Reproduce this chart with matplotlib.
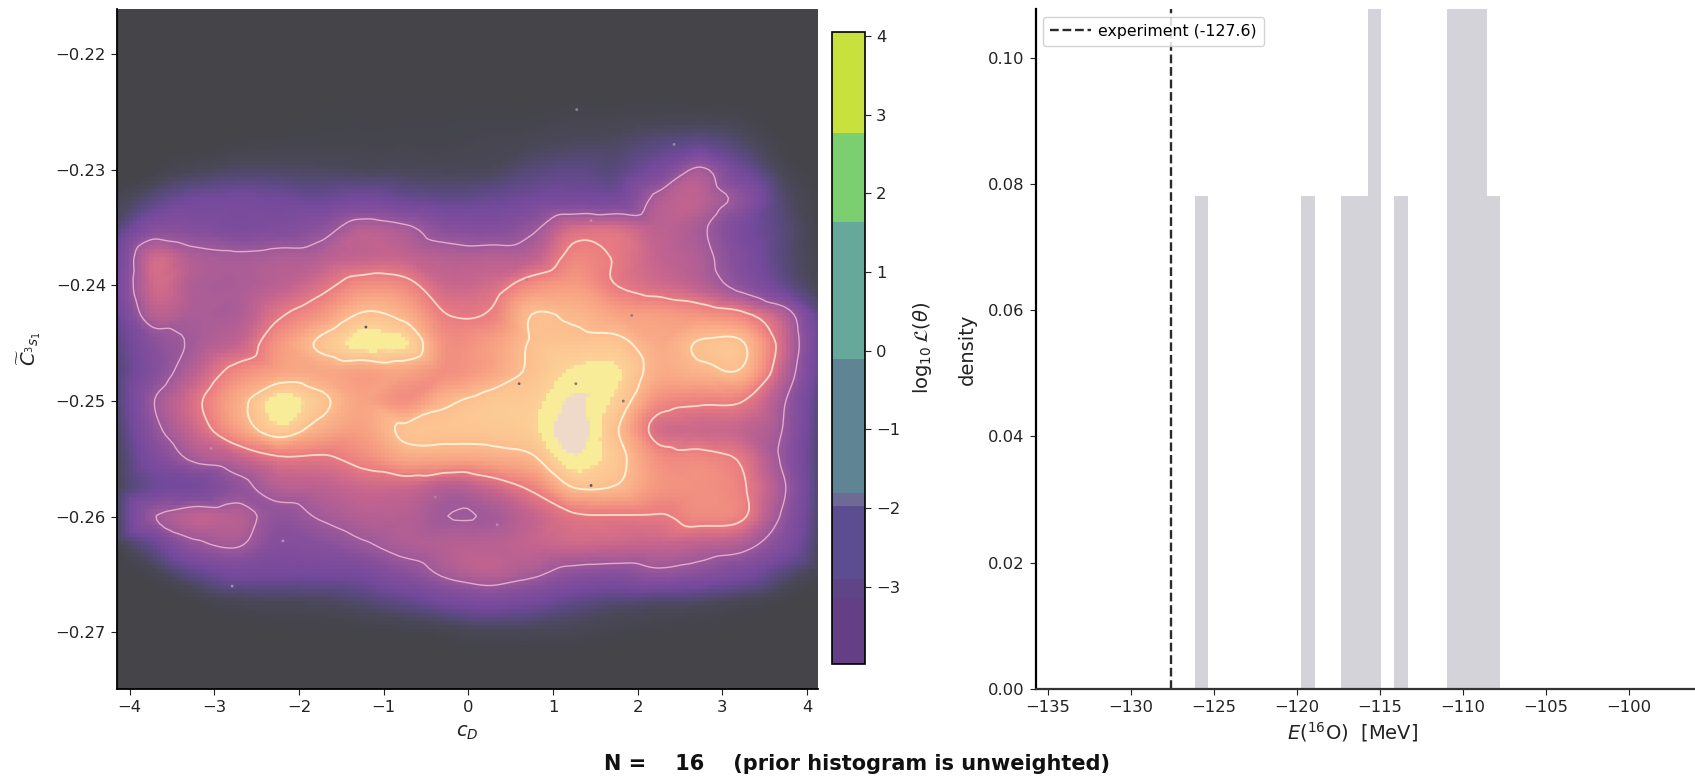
import numpy as np
import matplotlib
matplotlib.use("Agg")
import matplotlib.pyplot as plt
import matplotlib.tri as mtri
from matplotlib.cm import ScalarMappable
from matplotlib.colors import BoundaryNorm, LinearSegmentedColormap, ListedColormap

# ---- heat map, values on a coarse grid ----
cD_grid = [-4.25, -3.75, -3.25, -2.75, -2.25, -1.75, -1.25, -0.75, -0.25,
           0.25, 0.75, 1.25, 1.75, 2.25, 2.75, 3.25, 3.75, 4.25]
C3S1_grid = [-0.215, -0.2175, -0.22, -0.2225, -0.225, -0.2275, -0.23, -0.2325, -0.235,
             -0.2375, -0.24, -0.2425, -0.245, -0.2475, -0.25, -0.2525, -0.255, -0.2575,
             -0.26, -0.2625, -0.265, -0.2675, -0.27, -0.2725, -0.275]
density_grid = [
    [0, 0, 0, 0, 0, 0, 0, 0, 0, 0, 0, 0, 0, 0, 0, 0, 0, 0],
    [0, 0, 0, 0, 0, 0, 0, 0, 0, 0, 0, 0, 0, 0, 0, 0, 0, 0],
    [0, 0, 0, 0, 0, 0, 0, 0, 0, 0, 0, 0, 0, 0, 0, 0, 0, 0],
    [0, 0, 0, 0, 0, 0, 0, 0, 0, 0, 0, 0, 0, 0, 0, 0, 0, 0],
    [0, 0, 0, 0, 0, 0.03, 0.05, 0.05, 0.05, 0.05, 0.05, 0.1, 0.1, 0.12, 0.12, 0.08, 0, 0],
    [0, 0, 0, 0.05, 0.08, 0.1, 0.1, 0.1, 0.1, 0.15, 0.2, 0.3, 0.35, 0.55, 0.7, 0.4, 0.05, 0],
    [0, 0.05, 0.25, 0.4, 0.4, 0.35, 0.3, 0.3, 0.25, 0.3, 0.55, 0.7, 0.6, 1.2, 2.1, 1.0, 0.2, 0],
    [0.1, 0.6, 1.0, 1.1, 1.0, 0.9, 1.1, 0.9, 0.75, 0.85, 1.05, 1.15, 1.15, 2.2, 2.4, 1.7, 0.45, 0],
    [0.3, 1.5, 1.5, 1.3, 1.4, 1.7, 2.3, 2.1, 1.6, 1.5, 1.85, 2.7, 2.75, 2.4, 2.1, 1.2, 0.55, 0],
    [0.6, 2.6, 2.2, 2.1, 2.2, 2.3, 2.5, 2.5, 2.3, 2.3, 2.4, 3.15, 2.95, 2.5, 2.2, 1.4, 0.55, 0.05],
    [0.8, 2.6, 2.2, 2.15, 2.4, 2.8, 3.3, 3.2, 2.6, 2.7, 3.3, 3.5, 3.0, 2.7, 2.4, 1.7, 0.8, 0.1],
    [0.6, 2.3, 2.15, 2.2, 2.9, 3.4, 4.05, 3.8, 3.0, 3.05, 4.0, 3.9, 3.6, 3.5, 3.35, 3.1, 2.3, 0.4],
    [0.4, 1.6, 2.1, 2.5, 3.4, 4.1, 4.6, 4.5, 3.3, 3.5, 4.05, 4.15, 4.15, 3.7, 4.05, 4.02, 2.6, 0.5],
    [0.25, 1.5, 2.4, 3.2, 3.6, 3.65, 3.55, 3.6, 3.3, 3.6, 4.1, 4.5, 4.5, 3.75, 3.85, 3.9, 2.4, 0.45],
    [0.2, 1.9, 2.8, 3.7, 4.6, 4.15, 3.6, 3.3, 3.9, 4.2, 4.3, 4.8, 4.35, 3.3, 3.1, 3.0, 2.0, 0.25],
    [0.1, 1.7, 2.6, 3.5, 4.3, 3.75, 3.55, 4.1, 4.15, 4.2, 4.35, 5.0, 4.05, 2.75, 2.6, 2.5, 1.9, 0.2],
    [0.05, 1.3, 2.1, 2.45, 2.9, 2.9, 3.2, 3.65, 3.65, 3.7, 3.9, 4.7, 4.2, 3.3, 3.2, 2.9, 1.8, 0.15],
    [0.05, 0.9, 1.1, 1.75, 2.3, 2.4, 2.6, 2.6, 2.3, 2.6, 3.1, 4.0, 3.95, 3.4, 3.3, 3.05, 2.0, 0.15],
    [0, 1.9, 2.4, 2.3, 1.75, 2.05, 2.3, 2.3, 2.0, 2.05, 2.5, 2.9, 2.95, 2.95, 3.2, 3.05, 1.8, 0.1],
    [0, 0.8, 1.8, 2.05, 1.5, 1.6, 1.9, 2.2, 2.3, 2.35, 2.5, 2.6, 2.55, 2.5, 2.4, 2.2, 1.4, 0.05],
    [0, 0.15, 0.7, 1.1, 1.05, 1.05, 1.15, 1.6, 2.1, 2.35, 2.1, 1.7, 1.6, 1.8, 1.6, 1.2, 0.55, 0.03],
    [0, 0, 0.05, 0.2, 0.25, 0.3, 0.45, 0.7, 1.05, 1.25, 1.05, 0.7, 0.5, 0.4, 0.35, 0.2, 0.05, 0],
    [0, 0, 0, 0, 0.02, 0.03, 0.05, 0.08, 0.15, 0.25, 0.25, 0.2, 0.1, 0.05, 0.03, 0, 0, 0],
    [0, 0, 0, 0, 0, 0, 0, 0, 0, 0, 0, 0, 0, 0, 0, 0, 0, 0],
    [0, 0, 0, 0, 0, 0, 0, 0, 0, 0, 0, 0, 0, 0, 0, 0, 0, 0],
]
contour_levels = [2.0, 3.0, 4.0]

# ---- the 16 samples ----
sample_cD = [1.28, 2.43, 1.45, -1.21, -0.40, 1.93, 0.60, 1.27,
             1.83, 1.45, -0.39, 0.34, -2.19, -2.79, -3.04, 0.69]
sample_C = [-0.2248, -0.2278, -0.2344, -0.2436, -0.2436, -0.2426, -0.2485, -0.2485,
            -0.2500, -0.2573, -0.2583, -0.2607, -0.2621, -0.2660, -0.2541, -0.2395]
sample_colors = ['#8a8a9a', '#8e8eac', '#d08a90', '#55556a', '#d89a80', '#9a7a80', '#65606f', '#7a7a70',
                 '#7a7a70', '#505060', '#b080a8', '#b888b0', '#b890c0', '#9a9aa8', '#c08ab0', '#c07a80']

# ---- colour bar ----
cbar_bounds = [-3.98, -3.15, -2.9, -1.97, -1.81, -0.1, 1.64, 2.77, 4.05]
cbar_colors = ['#643f85', '#604488', '#5b4d8f', '#6f6a95', '#5f8493', '#66a99a', '#7ccf70', '#c9e13c']
cbar_ticks = [-3, -2, -1, 0, 1, 2, 3, 4]

# ---- energy histogram ----
N_samples = 16
bin_width = 0.8
bin_left = [-126.12, -119.72, -117.32, -116.52, -115.72, -114.12, -110.92, -110.12, -109.32, -108.52]
bin_counts = [1, 1, 1, 1, 2, 1, 3, 3, 2, 1]
E_experiment = -127.6

heat_colors = [(0.0, '#444449'), (0.25 / 5, '#4a4858'), (0.6 / 5, '#5a4a80'), (1.0 / 5, '#74499c'),
               (1.6 / 5, '#87509c'), (2.0 / 5, '#9f5a9a'), (2.5 / 5, '#c4648f'), (3.0 / 5, '#ea7c80'),
               (3.5 / 5, '#f79e82'), (4.0 / 5, '#fcbd8e'), (4.44 / 5, '#fdd298'), (4.45 / 5, '#f8ec98'),
               (4.75 / 5, '#f8ec98'), (4.76 / 5, '#efd9c8'), (1.0, '#efd9c8')]
heat_cmap = LinearSegmentedColormap.from_list('heat', heat_colors, N=512)

plt.rcParams['font.family'] = 'DejaVu Sans'
plt.rcParams['mathtext.fontset'] = 'dejavusans'

W, H = 1695, 776
fig = plt.figure(figsize=(W / 100, H / 100), dpi=100)


def box(left, top, right, bottom):
    return [left / W, 1 - bottom / H, (right - left) / W, (bottom - top) / H]


# left panel
ax = fig.add_axes(box(117, 9, 818, 689))
xlim = (-4.15, 4.13)
ylim = (-0.2749, -0.2161)

# smooth the coarse grid with matplotlib's own interpolator, in grid index space
zz = np.array(density_grid, dtype=float)
jj, ii = np.meshgrid(np.arange(zz.shape[1]), np.arange(zz.shape[0]))
triang = mtri.Triangulation(jj.ravel().astype(float), ii.ravel().astype(float))
interp = mtri.CubicTriInterpolator(triang, zz.ravel(), kind='geom')
x_fine = np.linspace(xlim[0], xlim[1], 175)
y_fine = np.linspace(ylim[0], ylim[1], 170)
XF, YF = np.meshgrid(x_fine, y_fine)
col = np.interp(XF, cD_grid, np.arange(len(cD_grid)))
row = np.interp(-YF, -np.array(C3S1_grid), np.arange(len(C3S1_grid)))
z_fine = np.ma.filled(interp(col, row), 0.0)
z_fine = np.clip(z_fine, 0, 5)

ax.imshow(z_fine, origin='lower', extent=[xlim[0], xlim[1], ylim[0], ylim[1]], aspect='auto',
          cmap=heat_cmap, vmin=0, vmax=5, interpolation='nearest')
ax.contour(XF, YF, z_fine, levels=contour_levels,
           colors=['#e3aacb', '#fbd8c8', '#fff0d4'], linewidths=[1.0, 1.3, 1.4])
ax.scatter(sample_cD, sample_C, s=4, c=sample_colors, linewidths=0, zorder=3)

ax.set_xlim(xlim)
ax.set_ylim(ylim)
ax.set_xticks(range(-4, 5))
ax.set_yticks([-0.27, -0.26, -0.25, -0.24, -0.23, -0.22])
ax.tick_params(labelsize=11.8, length=4.5, color='#222222', labelcolor='#222222')
ax.spines['top'].set_visible(False)
ax.spines['right'].set_visible(False)
ax.spines['left'].set_linewidth(1.3)
ax.spines['bottom'].set_linewidth(1.3)
ax.set_xlabel(r'$c_D$', fontsize=14, labelpad=6, color='#222222')
ax.set_ylabel(r'$\widetilde{C}_{^3s_1}$', fontsize=14, labelpad=9, color='#222222')

# colour bar
cax = fig.add_axes(box(832, 32, 865, 664))
norm = BoundaryNorm(cbar_bounds, len(cbar_colors))
cb = fig.colorbar(ScalarMappable(norm=norm, cmap=ListedColormap(cbar_colors)), cax=cax,
                  spacing='proportional', ticks=cbar_ticks)
cb.ax.tick_params(labelsize=11.8, length=4.5, color='#222222', labelcolor='#222222')
cb.minorticks_off()
cb.outline.set_linewidth(1.2)
cb.set_label(r'$\log_{10}\mathcal{L}(\theta)$', fontsize=14, labelpad=8, color='#222222')

# right panel, runs off the right edge of the picture
ax2 = fig.add_axes(box(1035.5, 9, 1695, 689))
heights = np.array(bin_counts) / (N_samples * bin_width)
ax2.bar(bin_left, heights, width=bin_width, align='edge', color='#d3d3d9', linewidth=0)
ax2.axvline(E_experiment, color='#2a2a2a', linestyle='--', linewidth=1.7,
            label=f'experiment ({E_experiment})')
ax2.set_xlim(-135.735, -96.0)
ax2.set_ylim(0, 0.1077)
ax2.set_xticks(range(-135, -99, 5))
ax2.set_yticks([0, 0.02, 0.04, 0.06, 0.08, 0.10])
ax2.set_yticklabels(['0.00', '0.02', '0.04', '0.06', '0.08', '0.10'])
ax2.tick_params(labelsize=11.8, length=4.5, color='#222222', labelcolor='#222222')
ax2.spines['top'].set_visible(False)
ax2.spines['right'].set_visible(False)
ax2.spines['left'].set_linewidth(1.6)
ax2.spines['bottom'].set_linewidth(1.6)
ax2.spines['bottom'].set_color('#333333')
ax2.set_xlabel(r'$E(^{16}\mathrm{O})$  [MeV]', fontsize=14, labelpad=5, color='#222222')
ax2.xaxis.set_label_coords((1353 - 1035.5) / (1695 - 1035.5), -0.0455)
ax2.set_ylabel('density', fontsize=14, labelpad=8, color='#222222')
ax2.legend(loc='upper left', bbox_to_anchor=(0.0, 1.0), fontsize=11.3, framealpha=0.85,
           borderaxespad=0.5, handlelength=2.6, handletextpad=0.45, borderpad=0.45)

fig.text(857 / W, 1 - 764 / H, 'N =    16    (prior histogram is unweighted)', ha='center', va='center',
         fontsize=15, fontweight='bold', color='#111111')

fig.savefig('out.png', dpi=100)
